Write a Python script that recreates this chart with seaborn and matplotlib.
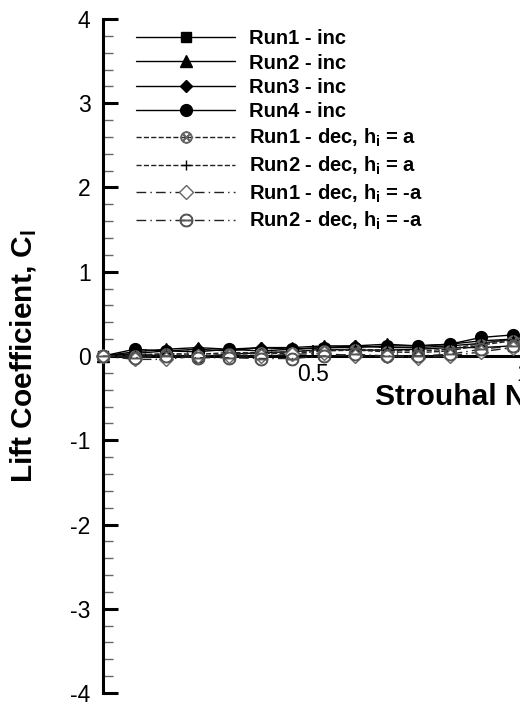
import matplotlib
matplotlib.use("Agg")
import matplotlib.pyplot as plt
import seaborn as sns
import numpy as np
from matplotlib.ticker import MultipleLocator

st = [0, 0.075, 0.15, 0.225, 0.3, 0.375, 0.45, 0.525, 0.6, 0.675, 0.75, 0.825, 0.9, 0.975]

run1_inc = [0, 0.02, 0.00, -0.01, 0.02, 0.04, 0.05, 0.08, 0.07, 0.07, 0.08, 0.10, 0.10, 0.12]
run2_inc = [0, 0.05, 0.08, 0.10, 0.08, 0.10, 0.10, 0.12, 0.12, 0.14, 0.12, 0.14, 0.18, 0.20]
run3_inc = [0, 0.03, 0.06, 0.08, 0.06, 0.10, 0.08, 0.10, 0.12, 0.10, 0.10, 0.12, 0.15, 0.20]
run4_inc = [0, 0.08, 0.06, 0.05, 0.08, 0.06, 0.08, 0.10, 0.10, 0.12, 0.12, 0.14, 0.22, 0.25]
run1_dec_pa = [0, 0.00, 0.02, 0.00, 0.02, 0.03, 0.03, 0.06, 0.07, 0.05, 0.04, 0.06, 0.13, 0.18]
run2_dec_pa = [0, 0.01, 0.03, 0.02, 0.04, 0.04, 0.05, 0.07, 0.08, 0.07, 0.06, 0.08, 0.15, 0.19]
run1_dec_ma = [0, -0.04, -0.04, 0.00, 0.00, 0.00, 0.02, 0.03, 0.00, 0.00, -0.02, 0.00, 0.05, 0.10]
run2_dec_ma = [0, -0.02, 0.00, -0.02, -0.02, -0.03, -0.03, 0.00, 0.02, 0.00, 0.00, 0.02, 0.08, 0.12]

labels = ["Run1 - inc", "Run2 - inc", "Run3 - inc", "Run4 - inc",
          r"Run1 - dec, h$_\mathregular{i}$ = a", r"Run2 - dec, h$_\mathregular{i}$ = a",
          r"Run1 - dec, h$_\mathregular{i}$ = -a", r"Run2 - dec, h$_\mathregular{i}$ = -a"]

y_ticks = [-4, -3, -2, -1, 0, 1, 2, 3, 4]
x_ticks = [0.5, 1.0, 1.5, 2.0]
x_tick_labels = ['0.5', '1', '1.5', '2']

sns.set_style("ticks")
plt.rcParams['font.family'] = ['Liberation Sans', 'DejaVu Sans']
plt.rcParams['text.color'] = 'black'
plt.rcParams['axes.labelcolor'] = 'black'
plt.rcParams['xtick.color'] = 'black'
plt.rcParams['ytick.color'] = 'black'
plt.rcParams['mathtext.fontset'] = 'custom'
plt.rcParams['mathtext.rm'] = 'Liberation Sans:bold'
plt.rcParams['mathtext.it'] = 'Liberation Sans:bold'
plt.rcParams['mathtext.bf'] = 'Liberation Sans:bold'

fig = plt.figure(figsize=(5.2, 7.06), dpi=100)
ax = fig.add_axes([103/520, 1 - 693/706, 840/520, 674/706])

dashdot = (0, (7, 3, 1, 3))
styles = [
    dict(y=run1_inc, marker='s', ls='-', color='black', mfc='black', mec='black', ms=6.5),
    dict(y=run2_inc, marker='^', ls='-', color='black', mfc='black', mec='black', ms=8),
    dict(y=run3_inc, marker='D', ls='-', color='black', mfc='black', mec='black', ms=6.5),
    dict(y=run4_inc, marker='o', ls='-', color='black', mfc='black', mec='black', ms=8.5),
    dict(y=run1_dec_pa, marker=r'$\otimes$', ls='--', color='#222222', mfc='#666666', mec='#666666', ms=8),
    dict(y=run2_dec_pa, marker='+', ls='--', color='#222222', mfc='black', mec='black', ms=7),
    dict(y=run1_dec_ma, marker='D', ls=dashdot, color='#222222', mfc='white', mec='#666666', ms=7),
    dict(y=run2_dec_ma, marker=r'$\ominus$', ls=dashdot, color='#222222', mfc='#555555', mec='#555555', ms=9),
]

for lab, s in zip(labels, styles):
    sns.lineplot(x=st, y=s['y'], ax=ax, label=lab, color=s['color'], linestyle=s['ls'],
                 linewidth=1.0, marker=s['marker'], markersize=s['ms'],
                 markerfacecolor=s['mfc'], markeredgecolor=s['mec'], markeredgewidth=1.0,
                 clip_on=False, zorder=3)

ax.set_xlim(0, 2)
ax.set_ylim(-4, 4)
ax.spines['top'].set_visible(False)
ax.spines['right'].set_visible(False)
ax.spines['bottom'].set_position(('data', 0))
for sp in ('left', 'bottom'):
    ax.spines[sp].set_linewidth(2.2)
    ax.spines[sp].set_color('black')

ax.yaxis.set_major_locator(MultipleLocator(1))
ax.yaxis.set_minor_locator(MultipleLocator(0.2))
ax.xaxis.set_major_locator(MultipleLocator(0.5))
ax.xaxis.set_minor_locator(MultipleLocator(0.1))
ax.tick_params(axis='y', which='major', direction='in', length=11, width=2.2, color='black',
               labelsize=16.5, pad=9, labelcolor='black')
ax.tick_params(axis='y', which='minor', direction='in', length=7, width=1, color='#666666')
ax.tick_params(axis='x', which='major', direction='in', length=8, width=1.2, color='black',
               labelsize=16.5, pad=5, labelcolor='black')
ax.tick_params(axis='x', which='minor', direction='in', length=5, width=1, color='#666666')

ax.set_yticks(y_ticks)
ax.set_yticklabels([str(v) for v in y_ticks])
ax.set_xticks(x_ticks)
ax.set_xticklabels(x_tick_labels)

ax.set_ylabel(r"Lift Coefficient, C$_\mathregular{l}$", fontsize=21.5, fontweight='bold', color='black')
ax.yaxis.set_label_coords((24 - 103) / 840, 0.5)
ax.yaxis.label.set_va('center')
ax.set_xlabel("Strouhal Number, St", fontsize=21.5, fontweight='bold', color='black')
ax.xaxis.label.set_ha('left')
ax.xaxis.set_label_coords((375 - 103) / 840, (693 - 397) / 674)
ax.xaxis.label.set_va('center')

leg = ax.legend(loc='upper left', bbox_to_anchor=(0.03, 0.997), frameon=False,
                prop={'family': 'Liberation Sans', 'weight': 'bold', 'size': 14.5},
                handlelength=4.9, handletextpad=0.7, labelspacing=0.27, borderaxespad=0)
for t in leg.get_texts():
    t.set_color('black')

fig.savefig("out.png", dpi=100)
